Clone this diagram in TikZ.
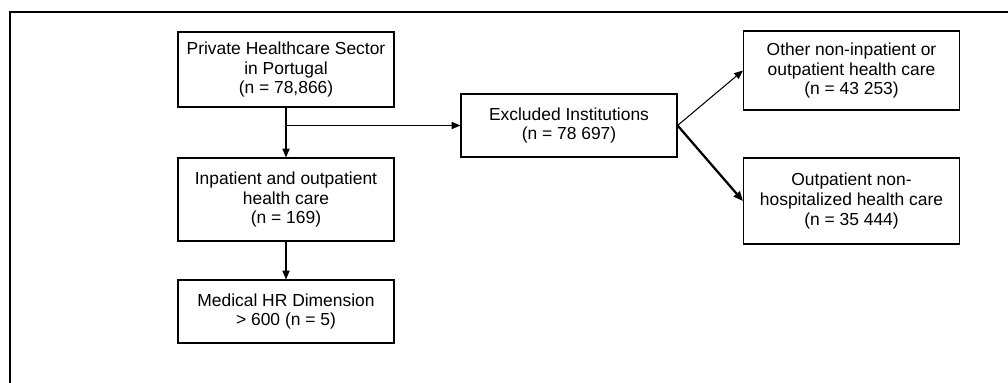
\documentclass[tikz,border=0pt]{standalone}
\usepackage{fontspec}
\setmainfont{Liberation Sans}
\usetikzlibrary{shapes,arrows.meta,positioning,fit}

\begin{document}
\begin{tikzpicture}[node distance=3cm, auto]

% Define styles
\tikzstyle{box} = [rectangle, draw, line width=0.8pt, minimum width=5.4cm, align=center, inner sep=0pt, font=\fontsize{12.4pt}{14.2pt}\selectfont]
\tikzstyle{arrow} = [line width=0.75pt, -{Triangle[length=2.2mm, width=1.8mm]}]
\tikzstyle{boldarrow} = [line width=1.6pt, -{Triangle[length=2.4mm, width=2mm]}]

\useasboundingbox (0,0) rectangle (25.2,-9.55);

% Frame
\draw [line width=1.4pt] (0.25,-9.7) -- (0.25,-0.3) -- (25.4,-0.3);

% Nodes
\node [box, minimum height=1.875cm] at (7.15,-1.7375) (sector) {Private Healthcare Sector\\in Portugal\\(n = 78,866)};
\node [box, minimum height=2.075cm, below of=sector, node distance=3.25cm] (care) {Inpatient and outpatient\\health care\\(n = 169)};
\node [box, minimum height=1.575cm, below of=care, node distance=2.8cm] (medical) {Medical HR Dimension\\> 600 (n = 5)};

% Exclusion boxes
\node [box, minimum height=1.575cm] at (14.225,-3.1375) (excluded) {Excluded Institutions\\(n = 78 697)};
\node [box, minimum height=1.975cm] at (21.2875,-1.7625) (other) {Other non-inpatient or\\outpatient health care\\(n = 43 253)};
\node [box, minimum height=2.15cm] at (21.2875,-5.025) (outpat) {Outpatient non-\\hospitalized health care\\(n = 35 444)};

% Arrows
\draw [arrow] (sector) -- (care);
\draw [arrow] (care) -- (medical);
\draw [arrow] (sector.south |- excluded.west) -- (excluded.west);

\draw [arrow] (excluded.east) -- (other.west);
\draw [boldarrow] (excluded.east) -- (outpat.west);

\end{tikzpicture}
\end{document}
